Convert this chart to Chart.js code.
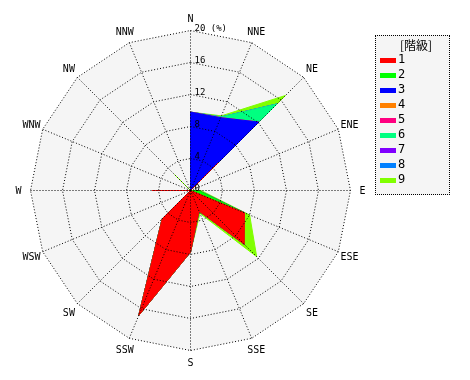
<!DOCTYPE html>
<html>
<head>
<meta charset="utf-8">
<script src="https://cdn.jsdelivr.net/npm/chart.js@4"></script>
<style>
  body { margin: 0; background: #fff; }
  #wrap { position: relative; width: 470px; height: 380px; }
  #roseChart { position: absolute; left: 0; top: 0; }
  #legend {
    position: absolute; left: 375px; top: 35px; width: 73px; height: 158px;
    border: 1px dotted #000; background: #f5f5f5;
    font: 12px "DejaVu Sans Mono", monospace; color: #000;
  }
  #legend .title {
    position: absolute; left: 0; width: 80px; top: 0; line-height: 14px;
    text-align: center; font: 12px "Noto Sans CJK JP", sans-serif;
  }
  #legend .item { position: absolute; left: 4px; height: 15px; line-height: 15px; }
  #legend .swatch { position: absolute; left: 0; top: 6px; width: 16px; height: 5px; }
  #legend .name { position: absolute; left: 18px; top: 0; }
</style>
</head>
<body>
<div id="wrap">
  <canvas id="roseChart" width="470" height="380"></canvas>
  <div id="legend"><div class="title">[階級]</div></div>
</div>
<script>
// wind rose, frequency (%) per direction, stacked by class
const directions = ['N', 'NNE', 'NE', 'ENE', 'E', 'ESE', 'SE', 'SSE', 'S', 'SSW', 'SW', 'WSW', 'W', 'WNW', 'NW', 'NNW'];
const classNames = ['1', '2', '3', '4', '5', '6', '7', '8', '9'];
const classColors = ['#ff0000', '#00ff00', '#0000ff', '#ff8000', '#ff0080', '#00ff80', '#8000ff', '#0080ff', '#80ff00'];

//              N    NNE   NE   ENE  E    ESE  SE   SSE  S    SSW   SW   WSW  W    WNW  NW   NNW
const class1 = [0,   0,    4.9, 0,   0,   7.3, 9.5, 2.8, 7.7, 16.9, 5.0, 0,   4.8, 0,   0,   0];
const class2 = [0,   0,    0,   0,   1.0, 0,   0,   0,   0,   0,    0,   0,   0,   0,   0,   0];
const class3 = [9.8, 9.85, 7.2, 0,   0,   0,   0,   0,   0,   0,    0,   0,   0,   0,   0,   0];
const class4 = [0,   0,    0,   0,   0,   0,   0,   0,   0,   0,    0,   0,   0,   0,   0,   0];
const class5 = [0,   0,    0,   0,   0,   0,   0,   0,   0,   0,    0,   0,   0,   0,   0,   0];
const class6 = [0,   0.1,  3.2, 0,   0,   0,   0,   0,   0,   0,    0,   0,   0,   0,   0,   0];
const class7 = [0,   0,    0,   0,   0,   0,   0,   0,   0,   0,    0,   0,   0,   0,   0,   0];
const class8 = [0,   0,    0,   0,   0,   0,   0,   0,   0,   0,    0,   0,   0,   0,   0,   0];
const class9 = [0,   0.15, 1.5, 0,   0.3, 0.7, 2.2, 0.3, 0,   0,    0,   0,   0,   0,   2.8, 0];

const tickValues = [0, 4, 8, 12, 16, 20];
const tickLabels = ['0', '4', '8', '12', '16', '20 (%)'];

const classData = [class1, class2, class3, class4, class5, class6, class7, class8, class9];

// cumulative totals, class 1 first so it is drawn on top
let running = directions.map(() => 0);
const datasets = classData.map((vals, k) => {
    running = running.map((v, i) => v + vals[i]);
    return {
        label: classNames[k],
        data: running.slice(),
        backgroundColor: classColors[k],
        borderColor: classColors[k],
        borderWidth: 1,
        fill: true,
        pointRadius: 0,
        pointHoverRadius: 0
    };
});

const rosePlugin = {
    id: 'rose',
    beforeDraw(chart) {
        chart.ctx.save();
        chart.ctx.translate(0.5, 0.5); // crisp 1px dotted lines
    },
    beforeDatasetsDraw(chart) {
        const scale = chart.scales.r;
        const ctx = chart.ctx;
        ctx.save();
        ctx.beginPath();
        directions.forEach((d, i) => {
            const p = scale.getPointPosition(i, scale.getDistanceFromCenterForValue(scale.max));
            if (i === 0) ctx.moveTo(p.x, p.y); else ctx.lineTo(p.x, p.y);
        });
        ctx.closePath();
        ctx.fillStyle = '#f5f5f5';
        ctx.fill();
        ctx.restore();
    },
    afterDraw(chart) {
        const scale = chart.scales.r;
        const ctx = chart.ctx;
        ctx.save();
        ctx.fillStyle = '#000';

        // direction labels
        ctx.font = '10px "DejaVu Sans Mono"';
        ctx.textAlign = 'center';
        ctx.textBaseline = 'middle';
        directions.forEach((d, i) => {
            const p = scale.getPointPosition(i, scale.drawingArea + 12);
            ctx.fillText(d, p.x, p.y + 1);
        });

        // value labels along the N axis
        ctx.font = '9px "DejaVu Sans Mono"';
        ctx.textAlign = 'left';
        ctx.textBaseline = 'alphabetic';
        tickValues.forEach((v, k) => {
            const y = scale.yCenter - scale.getDistanceFromCenterForValue(v);
            ctx.fillText(tickLabels[k], scale.xCenter + 4, y);
        });
        ctx.restore();
        ctx.restore();
    }
};

const roseCtx = document.getElementById('roseChart').getContext('2d');
const roseChart = new Chart(roseCtx, {
    type: 'radar',
    data: {
        labels: directions,
        datasets: datasets
    },
    options: {
        responsive: false,
        animation: false,
        layout: {
            padding: { left: 30, right: 120, top: 30, bottom: 30 }
        },
        elements: {
            line: { tension: 0 }
        },
        scales: {
            r: {
                min: 0,
                max: 20,
                ticks: { stepSize: 4, display: false },
                grid: { color: '#000', lineWidth: 1, z: 1 },
                border: { dash: [1, 2] },
                angleLines: { color: '#000', lineWidth: 1, borderDash: [1, 2] },
                pointLabels: { display: false }
            }
        },
        plugins: {
            legend: { display: false },
            tooltip: { enabled: false }
        }
    },
    plugins: [rosePlugin]
});

// legend box
const legendBox = document.getElementById('legend');
classNames.forEach((name, k) => {
    const item = document.createElement('div');
    item.className = 'item';
    item.style.top = (16 + 15 * k) + 'px';
    item.innerHTML = '<span class="swatch" style="background:' + classColors[k] + '"></span>' +
        '<span class="name">' + name + '</span>';
    legendBox.appendChild(item);
});
</script>
</body>
</html>
